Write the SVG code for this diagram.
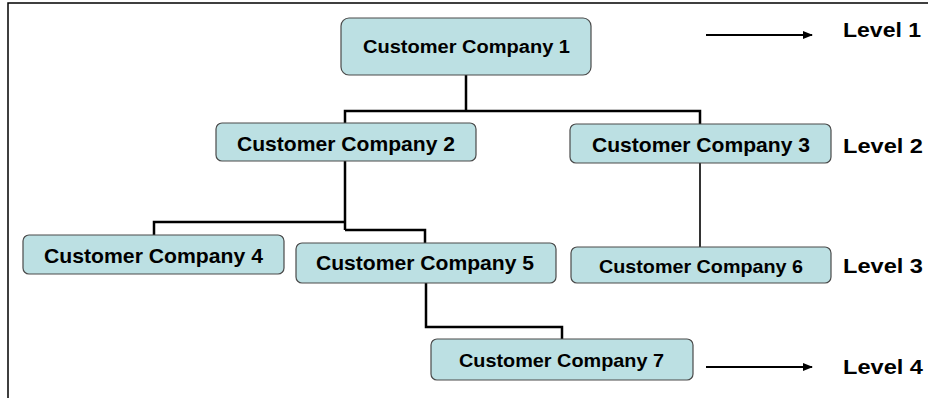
<svg xmlns="http://www.w3.org/2000/svg" width="928" height="398" viewBox="0 0 928 398">
<style>
.node rect{fill:#bce0e3;stroke:#4a4a4a;stroke-width:1.2}
.node text,.lvl{font-family:"Liberation Sans",Arial,sans-serif;font-weight:bold;fill:#000}
.conn{fill:none;stroke:#000;stroke-width:2.5;stroke-linejoin:miter}
.thin{fill:none;stroke:#000;stroke-width:1.6}
.arr{stroke:#000;stroke-width:2}
</style>
<defs>
<marker id="ah" markerWidth="10" markerHeight="8" refX="9" refY="4" orient="auto" markerUnits="userSpaceOnUse">
<path d="M0,0 L10,4 L0,8 Z" fill="#000"/>
</marker>
</defs>
<rect width="928" height="398" fill="#fff"/>
<path d="M8,398 V3 H928" fill="none" stroke="#000" stroke-width="1.5"/>
<g id="connectors">
<path class="conn" d="M466,75 V111 M345,123 V111 H700 V124"/>
<path class="conn" d="M345,161 V230 M154,235 V222 H345 M345,230 H425 V243"/>
<path class="thin" d="M700,163 V247"/>
<path class="conn" d="M426,283 V327 H562 V339"/>
<line class="arr" x1="706" y1="35" x2="812" y2="35" marker-end="url(#ah)"/>
<line class="arr" x1="706" y1="367" x2="812" y2="367" marker-end="url(#ah)"/>
</g>
<g id="n1" class="node"><rect x="341" y="18" width="250" height="57" rx="8"/><text x="363" y="53" font-size="18" textLength="207" lengthAdjust="spacingAndGlyphs">Customer Company 1</text></g>
<g id="n2" class="node"><rect x="216" y="123" width="260" height="38" rx="6"/><text x="237" y="151" font-size="21" textLength="218" lengthAdjust="spacingAndGlyphs">Customer Company 2</text></g>
<g id="n3" class="node"><rect x="570" y="124" width="261" height="39" rx="6"/><text x="592" y="152" font-size="21" textLength="218" lengthAdjust="spacingAndGlyphs">Customer Company 3</text></g>
<g id="n4" class="node"><rect x="23" y="235" width="261" height="39" rx="6"/><text x="44" y="263" font-size="21" textLength="219" lengthAdjust="spacingAndGlyphs">Customer Company 4</text></g>
<g id="n5" class="node"><rect x="296" y="243" width="260" height="40" rx="6"/><text x="316" y="270" font-size="20" textLength="218" lengthAdjust="spacingAndGlyphs">Customer Company 5</text></g>
<g id="n6" class="node"><rect x="571" y="247" width="260" height="36" rx="6"/><text x="599" y="273" font-size="19" textLength="204" lengthAdjust="spacingAndGlyphs">Customer Company 6</text></g>
<g id="n7" class="node"><rect x="431" y="339" width="262" height="41" rx="6"/><text x="459" y="367" font-size="19" textLength="205" lengthAdjust="spacingAndGlyphs">Customer Company 7</text></g>
<g id="levels">
<text class="lvl" x="843" y="37" font-size="20" textLength="78" lengthAdjust="spacingAndGlyphs">Level 1</text>
<text class="lvl" x="843" y="153" font-size="21" textLength="80" lengthAdjust="spacingAndGlyphs">Level 2</text>
<text class="lvl" x="843" y="273" font-size="21" textLength="80" lengthAdjust="spacingAndGlyphs">Level 3</text>
<text class="lvl" x="843" y="374" font-size="21" textLength="80" lengthAdjust="spacingAndGlyphs">Level 4</text>
</g>
</svg>
